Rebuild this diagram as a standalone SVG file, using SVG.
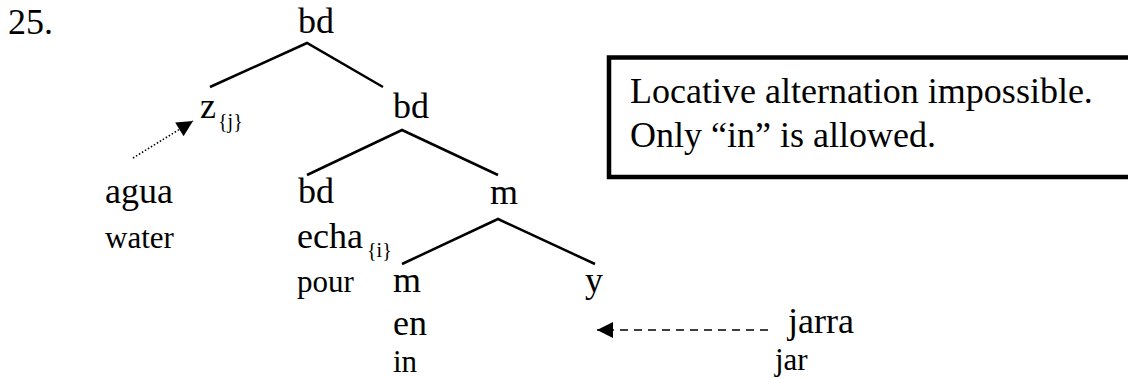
<svg xmlns="http://www.w3.org/2000/svg" width="1128" height="379" viewBox="0 0 1128 379">
  <style>
    text { font-family: "Liberation Serif", "Times New Roman", serif; fill: #000; }
    .lg { font-size: 36px; }
    .sm { font-size: 31px; }
    .sub { font-size: 20px; }
    .edge { stroke: #000; stroke-width: 2.5; fill: none; stroke-linecap: butt; }
    .dot { stroke: #000; stroke-width: 1.6; fill: none; stroke-dasharray: 1.5 2; }
    .dash { stroke: #000; stroke-width: 1.6; fill: none; stroke-dasharray: 8 6; }
  </style>
  <defs>
    <marker id="headBig" viewBox="0 0 10 10" refX="10" refY="5" markerWidth="18" markerHeight="16" markerUnits="userSpaceOnUse" orient="auto">
      <path d="M0,0 L10,5 L0,10 z" fill="#000"/>
    </marker>
  </defs>

  <text class="lg" x="8" y="34">25.</text>

  <!-- tree branches and movement arrows -->
  <g id="connectors">
    <path class="edge" d="M210,87 L307,43 L383,87"/>
    <path class="edge" d="M307,175 L402,130 L498,175"/>
    <path class="edge" d="M402,264 L498,219 L595,264"/>
    <path class="dot" d="M133,158 L193,121" marker-end="url(#headBig)"/>
    <path class="dash" d="M768,330 L597,330" marker-end="url(#headBig)"/>
  </g>

  <g id="n-bd-root"><text class="lg" x="298" y="33">bd</text></g>
  <g id="n-z"><text class="lg" x="200" y="118">z</text><text class="sub" x="218" y="128">{j}</text></g>
  <g id="n-bd-mid"><text class="lg" x="393" y="118">bd</text></g>
  <g id="n-agua"><text class="lg" x="105" y="203">agua</text><text class="sm" x="105" y="248">water</text></g>
  <g id="n-bd-low">
    <text class="lg" x="298" y="203">bd</text>
    <text class="lg" x="297" y="248">echa</text><text class="sub" x="367" y="257">{i}</text>
    <text class="sm" x="297" y="292">pour</text>
  </g>
  <g id="n-m-mid"><text class="lg" x="490" y="204">m</text></g>
  <g id="n-m-low">
    <text class="lg" x="393" y="292">m</text>
    <text class="lg" x="393" y="335">en</text>
    <text class="sm" x="393" y="372">in</text>
  </g>
  <g id="n-y"><text class="lg" x="585" y="292">y</text></g>
  <g id="n-jarra"><text class="lg" x="788" y="333">jarra</text><text class="sm" x="775" y="370">jar</text></g>

  <g id="note">
    <rect x="609" y="57.5" width="540" height="119.5" fill="#fff" stroke="#000" stroke-width="4.5"/>
    <text class="lg" x="630" y="103">Locative alternation impossible.</text>
    <text class="lg" x="630" y="147">Only “in” is allowed.</text>
  </g>
</svg>
